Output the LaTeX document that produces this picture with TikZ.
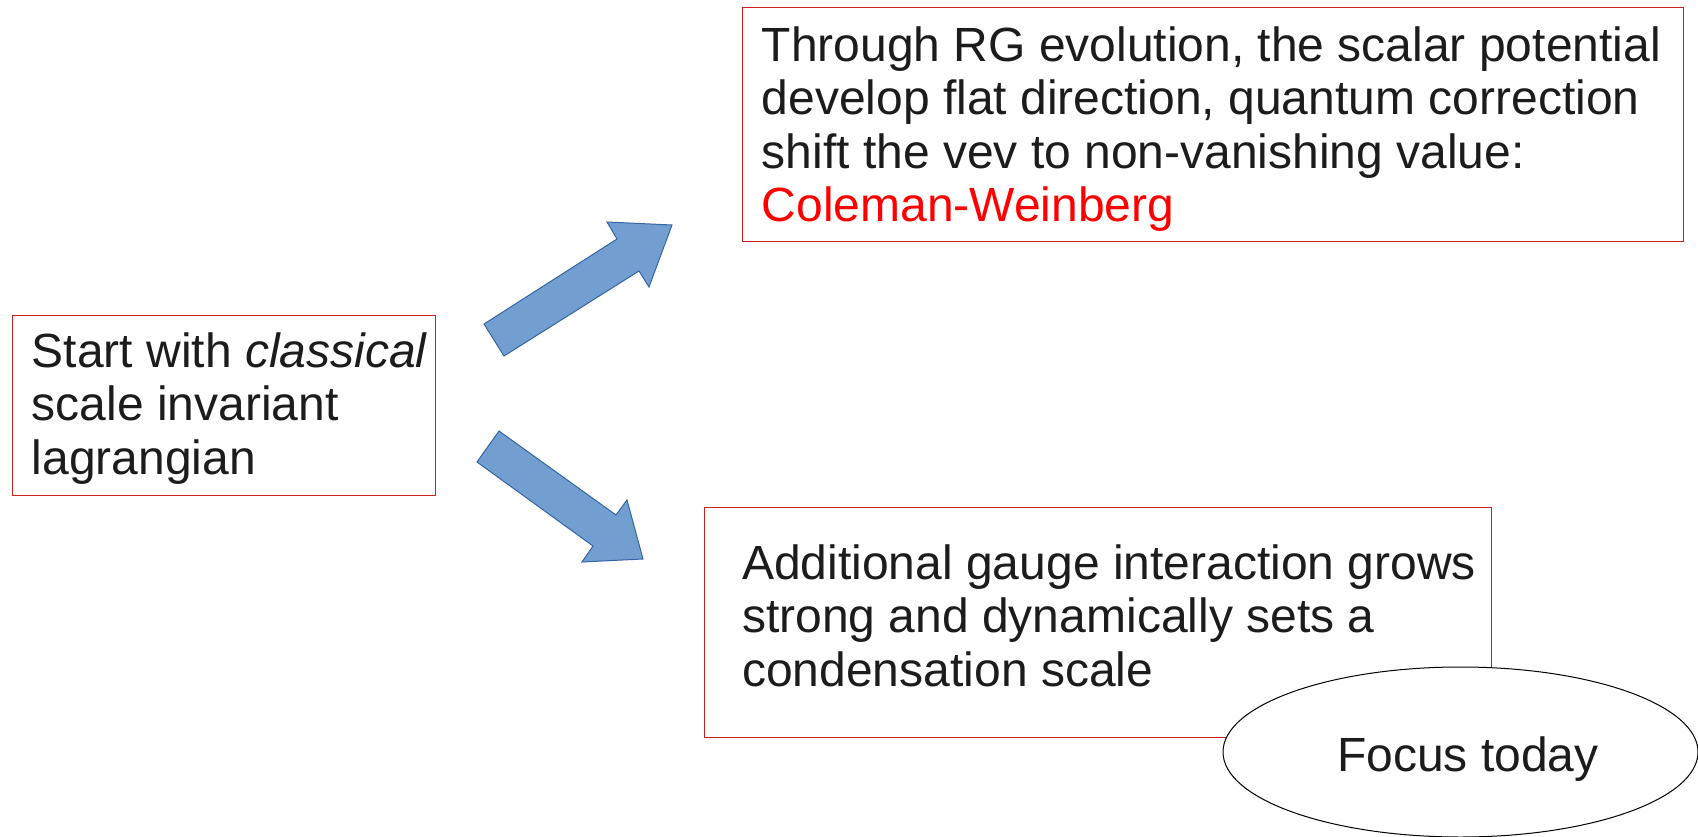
\documentclass[tikz,border=0pt]{standalone}
\usepackage{fontspec}
\setmainfont{Liberation Sans}
\usetikzlibrary{shapes.geometric}
\definecolor{boxred}{RGB}{201,33,30}
\definecolor{arrowfill}{RGB}{114,159,207}
\definecolor{arrowline}{RGB}{52,101,164}
\definecolor{txtgray}{RGB}{28,28,28}
\definecolor{cwred}{RGB}{255,0,0}
\begin{document}
\begin{tikzpicture}[x=1pt,y=-1pt,
  box/.style={draw=boxred, line width=1.3pt, fill=white, rectangle, anchor=north west, inner sep=0pt},
  txt/.style={anchor=base west, inner sep=0pt, text=txtgray, font=\fontsize{48}{53.5}\selectfont},
  blockarrow/.style={fill=arrowfill, draw=arrowline, line width=1pt, line join=miter}]
\useasboundingbox (0,0) rectangle (1698,837);

% boxes
\node[box, minimum width=423pt, minimum height=180pt] (start) at (12,315) {};
\node[box, minimum width=941pt, minimum height=234pt] (rg) at (742,7) {};
\node[box, minimum width=787pt, minimum height=230pt] (gauge) at (704,507) {};

% texts
\node[txt] (starttext) at (31.5,367) {\vtop{\hbox{Start with \textit{classical}}\hbox{scale invariant}\hbox{lagrangian}}};
\node[txt] (rgtext) at (761.5,61.5) {\vtop{\hbox{Through RG evolution, the scalar potential}\hbox{develop flat direction, quantum correction}\hbox{shift the vev to non-vanishing value:}\hbox{\textcolor{cwred}{Coleman-Weinberg}}}};
\node[txt] (gaugetext) at (742,579.3) {\vtop{\hbox{Additional gauge interaction grows}\hbox{strong and dynamically sets a}\hbox{condensation scale}}};

% block arrows
\draw[blockarrow] (484,324) -- (617,239) -- (607,222) -- (672,225) -- (649,287) -- (639,271) -- (504,356) -- cycle;
\draw[blockarrow] (499,431) -- (616,515) -- (627,500) -- (643,559) -- (582,562) -- (593,546) -- (477,462) -- cycle;

% focus ellipse
\node[ellipse, draw=black, line width=1pt, fill=white, minimum width=475pt, minimum height=170pt, inner sep=0pt] (focus) at (1460.5,752) {};
\node[txt] (focustext) at (1337,771.5) {Focus today};
\end{tikzpicture}
\end{document}
